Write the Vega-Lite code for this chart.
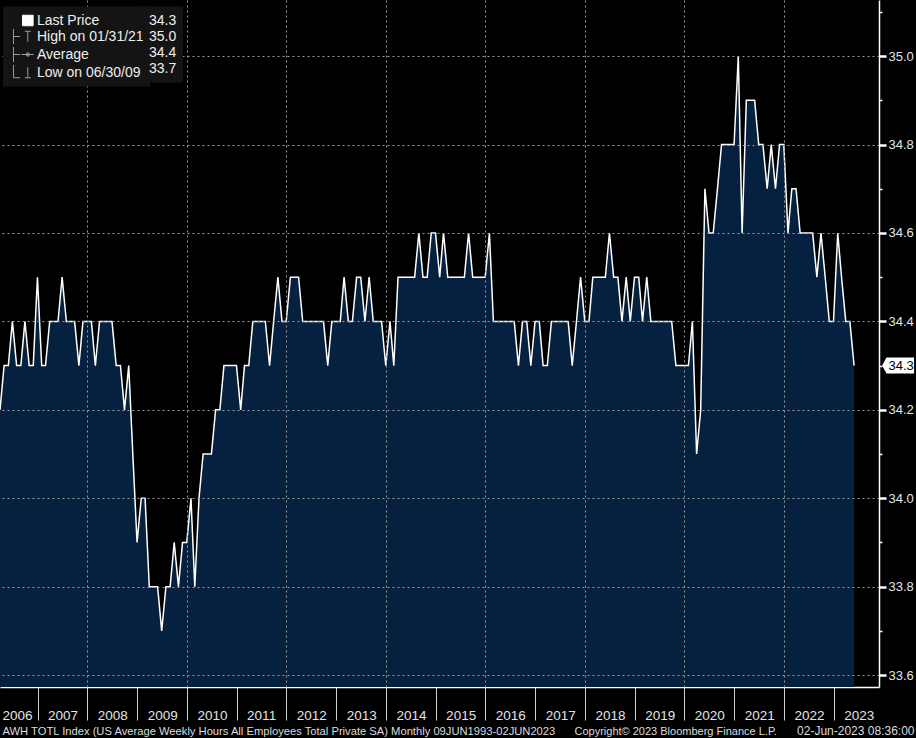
{
  "$schema": "https://vega.github.io/schema/vega-lite/v6.json",
  "width": 879,
  "height": 687,
  "autosize": {"type": "none"},
  "padding": {"left": 0, "top": 0, "right": 37, "bottom": 51},
  "background": "#000000",
  "config": {"view": {"stroke": null}, "font": "Liberation Sans"},
  "datasets": {
    "awh": [
      {"date": "2006-03-31", "hours": 34.2}, {"date": "2006-04-30", "hours": 34.3}, {"date": "2006-05-31", "hours": 34.3},
      {"date": "2006-06-30", "hours": 34.4}, {"date": "2006-07-31", "hours": 34.3}, {"date": "2006-08-31", "hours": 34.3},
      {"date": "2006-09-30", "hours": 34.4}, {"date": "2006-10-31", "hours": 34.3}, {"date": "2006-11-30", "hours": 34.3},
      {"date": "2006-12-31", "hours": 34.5},
      {"date": "2007-01-31", "hours": 34.3}, {"date": "2007-02-28", "hours": 34.3}, {"date": "2007-03-31", "hours": 34.4},
      {"date": "2007-04-30", "hours": 34.4}, {"date": "2007-05-31", "hours": 34.4}, {"date": "2007-06-30", "hours": 34.5},
      {"date": "2007-07-31", "hours": 34.4}, {"date": "2007-08-31", "hours": 34.4}, {"date": "2007-09-30", "hours": 34.4},
      {"date": "2007-10-31", "hours": 34.3}, {"date": "2007-11-30", "hours": 34.4}, {"date": "2007-12-31", "hours": 34.4},
      {"date": "2008-01-31", "hours": 34.4}, {"date": "2008-02-29", "hours": 34.3}, {"date": "2008-03-31", "hours": 34.4},
      {"date": "2008-04-30", "hours": 34.4}, {"date": "2008-05-31", "hours": 34.4}, {"date": "2008-06-30", "hours": 34.4},
      {"date": "2008-07-31", "hours": 34.3}, {"date": "2008-08-31", "hours": 34.3}, {"date": "2008-09-30", "hours": 34.2},
      {"date": "2008-10-31", "hours": 34.3}, {"date": "2008-11-30", "hours": 34.1}, {"date": "2008-12-31", "hours": 33.9},
      {"date": "2009-01-31", "hours": 34.0}, {"date": "2009-02-28", "hours": 34.0}, {"date": "2009-03-31", "hours": 33.8},
      {"date": "2009-04-30", "hours": 33.8}, {"date": "2009-05-31", "hours": 33.8}, {"date": "2009-06-30", "hours": 33.7},
      {"date": "2009-07-31", "hours": 33.8}, {"date": "2009-08-31", "hours": 33.8}, {"date": "2009-09-30", "hours": 33.9},
      {"date": "2009-10-31", "hours": 33.8}, {"date": "2009-11-30", "hours": 33.9}, {"date": "2009-12-31", "hours": 33.9},
      {"date": "2010-01-31", "hours": 34.0}, {"date": "2010-02-28", "hours": 33.8}, {"date": "2010-03-31", "hours": 34.0},
      {"date": "2010-04-30", "hours": 34.1}, {"date": "2010-05-31", "hours": 34.1}, {"date": "2010-06-30", "hours": 34.1},
      {"date": "2010-07-31", "hours": 34.2}, {"date": "2010-08-31", "hours": 34.2}, {"date": "2010-09-30", "hours": 34.3},
      {"date": "2010-10-31", "hours": 34.3}, {"date": "2010-11-30", "hours": 34.3}, {"date": "2010-12-31", "hours": 34.3},
      {"date": "2011-01-31", "hours": 34.2}, {"date": "2011-02-28", "hours": 34.3}, {"date": "2011-03-31", "hours": 34.3},
      {"date": "2011-04-30", "hours": 34.4}, {"date": "2011-05-31", "hours": 34.4}, {"date": "2011-06-30", "hours": 34.4},
      {"date": "2011-07-31", "hours": 34.4}, {"date": "2011-08-31", "hours": 34.3}, {"date": "2011-09-30", "hours": 34.4},
      {"date": "2011-10-31", "hours": 34.5}, {"date": "2011-11-30", "hours": 34.4}, {"date": "2011-12-31", "hours": 34.4},
      {"date": "2012-01-31", "hours": 34.5}, {"date": "2012-02-29", "hours": 34.5}, {"date": "2012-03-31", "hours": 34.5},
      {"date": "2012-04-30", "hours": 34.4}, {"date": "2012-05-31", "hours": 34.4}, {"date": "2012-06-30", "hours": 34.4},
      {"date": "2012-07-31", "hours": 34.4}, {"date": "2012-08-31", "hours": 34.4}, {"date": "2012-09-30", "hours": 34.4},
      {"date": "2012-10-31", "hours": 34.3}, {"date": "2012-11-30", "hours": 34.4}, {"date": "2012-12-31", "hours": 34.4},
      {"date": "2013-01-31", "hours": 34.4}, {"date": "2013-02-28", "hours": 34.5}, {"date": "2013-03-31", "hours": 34.4},
      {"date": "2013-04-30", "hours": 34.4}, {"date": "2013-05-31", "hours": 34.5}, {"date": "2013-06-30", "hours": 34.5},
      {"date": "2013-07-31", "hours": 34.4}, {"date": "2013-08-31", "hours": 34.5}, {"date": "2013-09-30", "hours": 34.4},
      {"date": "2013-10-31", "hours": 34.4}, {"date": "2013-11-30", "hours": 34.4}, {"date": "2013-12-31", "hours": 34.3},
      {"date": "2014-01-31", "hours": 34.4}, {"date": "2014-02-28", "hours": 34.3}, {"date": "2014-03-31", "hours": 34.5},
      {"date": "2014-04-30", "hours": 34.5}, {"date": "2014-05-31", "hours": 34.5}, {"date": "2014-06-30", "hours": 34.5},
      {"date": "2014-07-31", "hours": 34.5}, {"date": "2014-08-31", "hours": 34.6}, {"date": "2014-09-30", "hours": 34.5},
      {"date": "2014-10-31", "hours": 34.5}, {"date": "2014-11-30", "hours": 34.6}, {"date": "2014-12-31", "hours": 34.6},
      {"date": "2015-01-31", "hours": 34.5}, {"date": "2015-02-28", "hours": 34.6}, {"date": "2015-03-31", "hours": 34.5},
      {"date": "2015-04-30", "hours": 34.5}, {"date": "2015-05-31", "hours": 34.5}, {"date": "2015-06-30", "hours": 34.5},
      {"date": "2015-07-31", "hours": 34.5}, {"date": "2015-08-31", "hours": 34.6}, {"date": "2015-09-30", "hours": 34.5},
      {"date": "2015-10-31", "hours": 34.5}, {"date": "2015-11-30", "hours": 34.5}, {"date": "2015-12-31", "hours": 34.5},
      {"date": "2016-01-31", "hours": 34.6}, {"date": "2016-02-29", "hours": 34.4}, {"date": "2016-03-31", "hours": 34.4},
      {"date": "2016-04-30", "hours": 34.4}, {"date": "2016-05-31", "hours": 34.4}, {"date": "2016-06-30", "hours": 34.4},
      {"date": "2016-07-31", "hours": 34.4}, {"date": "2016-08-31", "hours": 34.3}, {"date": "2016-09-30", "hours": 34.4},
      {"date": "2016-10-31", "hours": 34.4}, {"date": "2016-11-30", "hours": 34.3}, {"date": "2016-12-31", "hours": 34.4},
      {"date": "2017-01-31", "hours": 34.4}, {"date": "2017-02-28", "hours": 34.3}, {"date": "2017-03-31", "hours": 34.3},
      {"date": "2017-04-30", "hours": 34.4}, {"date": "2017-05-31", "hours": 34.4}, {"date": "2017-06-30", "hours": 34.4},
      {"date": "2017-07-31", "hours": 34.4}, {"date": "2017-08-31", "hours": 34.4}, {"date": "2017-09-30", "hours": 34.3},
      {"date": "2017-10-31", "hours": 34.4}, {"date": "2017-11-30", "hours": 34.5}, {"date": "2017-12-31", "hours": 34.4},
      {"date": "2018-01-31", "hours": 34.4}, {"date": "2018-02-28", "hours": 34.5}, {"date": "2018-03-31", "hours": 34.5},
      {"date": "2018-04-30", "hours": 34.5}, {"date": "2018-05-31", "hours": 34.5}, {"date": "2018-06-30", "hours": 34.6},
      {"date": "2018-07-31", "hours": 34.5}, {"date": "2018-08-31", "hours": 34.5}, {"date": "2018-09-30", "hours": 34.4},
      {"date": "2018-10-31", "hours": 34.5}, {"date": "2018-11-30", "hours": 34.4}, {"date": "2018-12-31", "hours": 34.5},
      {"date": "2019-01-31", "hours": 34.5}, {"date": "2019-02-28", "hours": 34.4}, {"date": "2019-03-31", "hours": 34.5},
      {"date": "2019-04-30", "hours": 34.4}, {"date": "2019-05-31", "hours": 34.4}, {"date": "2019-06-30", "hours": 34.4},
      {"date": "2019-07-31", "hours": 34.4}, {"date": "2019-08-31", "hours": 34.4}, {"date": "2019-09-30", "hours": 34.4},
      {"date": "2019-10-31", "hours": 34.3}, {"date": "2019-11-30", "hours": 34.3}, {"date": "2019-12-31", "hours": 34.3},
      {"date": "2020-01-31", "hours": 34.3}, {"date": "2020-02-29", "hours": 34.4}, {"date": "2020-03-31", "hours": 34.1},
      {"date": "2020-04-30", "hours": 34.2}, {"date": "2020-05-31", "hours": 34.7}, {"date": "2020-06-30", "hours": 34.6},
      {"date": "2020-07-31", "hours": 34.6}, {"date": "2020-08-31", "hours": 34.7}, {"date": "2020-09-30", "hours": 34.8},
      {"date": "2020-10-31", "hours": 34.8}, {"date": "2020-11-30", "hours": 34.8}, {"date": "2020-12-31", "hours": 34.8},
      {"date": "2021-01-31", "hours": 35.0}, {"date": "2021-02-28", "hours": 34.6}, {"date": "2021-03-31", "hours": 34.9},
      {"date": "2021-04-30", "hours": 34.9}, {"date": "2021-05-31", "hours": 34.9}, {"date": "2021-06-30", "hours": 34.8},
      {"date": "2021-07-31", "hours": 34.8}, {"date": "2021-08-31", "hours": 34.7}, {"date": "2021-09-30", "hours": 34.8},
      {"date": "2021-10-31", "hours": 34.7}, {"date": "2021-11-30", "hours": 34.8}, {"date": "2021-12-31", "hours": 34.8},
      {"date": "2022-01-31", "hours": 34.6}, {"date": "2022-02-28", "hours": 34.7}, {"date": "2022-03-31", "hours": 34.7},
      {"date": "2022-04-30", "hours": 34.6}, {"date": "2022-05-31", "hours": 34.6}, {"date": "2022-06-30", "hours": 34.6},
      {"date": "2022-07-31", "hours": 34.6}, {"date": "2022-08-31", "hours": 34.5}, {"date": "2022-09-30", "hours": 34.6},
      {"date": "2022-10-31", "hours": 34.5}, {"date": "2022-11-30", "hours": 34.4}, {"date": "2022-12-31", "hours": 34.4},
      {"date": "2023-01-31", "hours": 34.6}, {"date": "2023-02-28", "hours": 34.5}, {"date": "2023-03-31", "hours": 34.4},
      {"date": "2023-04-30", "hours": 34.4}, {"date": "2023-05-31", "hours": 34.3}
    ]
  },
  "data": {"name": "awh"},
  "resolve": {"axis": {"x": "independent", "y": "independent"}},
  "layer": [
    {
      "mark": {"type": "area", "color": "#06203f", "opacity": 1, "clip": true},
      "encoding": {
        "x": {
          "field": "date", "type": "temporal",
          "scale": {"type": "utc", "domain": [{"year": 2006, "month": 3, "date": 31, "utc": true}, {"year": 2023, "month": 11, "date": 30, "utc": true}]},
          "axis": {
            "orient": "bottom",
            "values": [
              {"year": 2006, "month": 3, "date": 31, "utc": true},
              {"year": 2007, "month": 1, "date": 1, "utc": true}, {"year": 2008, "month": 1, "date": 1, "utc": true},
              {"year": 2009, "month": 1, "date": 1, "utc": true}, {"year": 2010, "month": 1, "date": 1, "utc": true},
              {"year": 2011, "month": 1, "date": 1, "utc": true}, {"year": 2012, "month": 1, "date": 1, "utc": true},
              {"year": 2013, "month": 1, "date": 1, "utc": true}, {"year": 2014, "month": 1, "date": 1, "utc": true},
              {"year": 2015, "month": 1, "date": 1, "utc": true}, {"year": 2016, "month": 1, "date": 1, "utc": true},
              {"year": 2017, "month": 1, "date": 1, "utc": true}, {"year": 2018, "month": 1, "date": 1, "utc": true},
              {"year": 2019, "month": 1, "date": 1, "utc": true}, {"year": 2020, "month": 1, "date": 1, "utc": true},
              {"year": 2021, "month": 1, "date": 1, "utc": true}, {"year": 2022, "month": 1, "date": 1, "utc": true},
              {"year": 2023, "month": 1, "date": 1, "utc": true}
            ],
            "labelExpr": "utcFormat(datum.value, '%Y')",
            "labelAlign": "left",
            "labelOffset": {"condition": {"test": "utcyear(datum.value) == 2006", "value": 2}, "value": 10},
            "labelBaseline": "alphabetic",
            "labelPadding": -1,
            "labelFont": "Liberation Sans",
            "labelFontSize": 13.5,
            "labelColor": "#e4e4e4",
            "labelOverlap": false,
            "labelFlush": false,
            "labelBound": false,
            "ticks": true,
            "tickColor": "#cfcfcf",
            "tickSize": 33,
            "tickWidth": 1,
            "tickOpacity": {"condition": {"test": "utcyear(datum.value) == 2006", "value": 0}, "value": 1},
            "domain": true,
            "domainColor": "#ffffff",
            "domainWidth": 1.5,
            "grid": false,
            "title": "AWH TOTL Index (US Average Weekly Hours All Employees Total Private SA)  Monthly 09JUN1993-02JUN2023",
            "titleX": 2,
            "titleY": 47,
            "titleAlign": "left",
            "titleAnchor": "start",
            "titleBaseline": "alphabetic",
            "titleFont": "Liberation Sans",
            "titleFontSize": 11.2,
            "titleFontWeight": "normal",
            "titleColor": "#dcdcdc"
          }
        },
        "y": {
          "field": "hours", "type": "quantitative",
          "scale": {"domain": [33.573, 35.127], "zero": false, "nice": false},
          "axis": {
            "orient": "right",
            "values": [33.6, 33.8, 34.0, 34.2, 34.4, 34.6, 34.8, 35.0],
            "format": ".1f",
            "grid": true,
            "gridColor": "#9a9a9a",
            "gridDash": [2, 3],
            "gridWidth": 1,
            "ticks": true,
            "tickColor": "#ffffff",
            "tickSize": 7,
            "tickWidth": 2.5,
            "domain": true,
            "domainColor": "#ffffff",
            "domainWidth": 1.5,
            "labelFont": "Liberation Sans",
            "labelFontSize": 13,
            "labelColor": "#e4e4e4",
            "labelPadding": 2,
            "labelBaseline": "middle",
            "labelOverlap": false,
            "labelBound": false,
            "title": null,
            "zindex": 1
          }
        }
      }
    },
    {
      "mark": {"type": "line", "strokeWidth": 1.5, "clip": true},
      "encoding": {
        "x": {
          "field": "date", "type": "temporal",
          "axis": {
            "orient": "bottom",
            "values": [
              {"year": 2008, "month": 1, "date": 1, "utc": true}, {"year": 2010, "month": 1, "date": 1, "utc": true},
              {"year": 2012, "month": 1, "date": 1, "utc": true}, {"year": 2014, "month": 1, "date": 1, "utc": true},
              {"year": 2016, "month": 1, "date": 1, "utc": true}, {"year": 2018, "month": 1, "date": 1, "utc": true},
              {"year": 2020, "month": 1, "date": 1, "utc": true}, {"year": 2022, "month": 1, "date": 1, "utc": true}
            ],
            "grid": true,
            "gridColor": "#9a9a9a",
            "gridDash": [2, 3],
            "gridWidth": 1,
            "ticks": false,
            "labels": false,
            "domain": false,
            "title": "Copyright\u00a9 2023 Bloomberg Finance L.P.",
            "titleX": 574,
            "titleY": 47,
            "titleAlign": "left",
            "titleAnchor": "start",
            "titleBaseline": "alphabetic",
            "titleFont": "Liberation Sans",
            "titleFontSize": 11,
            "titleFontWeight": "normal",
            "titleColor": "#dcdcdc",
            "zindex": 1
          }
        },
        "y": {
          "field": "hours", "type": "quantitative",
          "axis": {
            "orient": "right",
            "values": [33.7, 33.9, 34.1, 34.3, 34.5, 34.7, 34.9, 35.1],
            "labels": false,
            "grid": false,
            "domain": false,
            "ticks": true,
            "tickColor": "#ffffff",
            "tickSize": 3,
            "tickWidth": 1.5,
            "title": "02-Jun-2023 08:36:00",
            "titleAngle": 0,
            "titleX": 35,
            "titleY": 734,
            "titleAlign": "right",
            "titleAnchor": "start",
            "titleBaseline": "alphabetic",
            "titleFont": "Liberation Sans",
            "titleFontSize": 12,
            "titleFontWeight": "normal",
            "titleColor": "#dcdcdc"
          }
        },
        "color": {
          "datum": "Last Price", "type": "nominal",
          "scale": {"domain": ["Last Price", "High on 01/31/21", "Average", "Low on 06/30/09"], "range": ["#ffffff", "#9c9c9c", "#9c9c9c", "#9c9c9c"]},
          "legend": {
            "orient": "none",
            "legendX": 3,
            "legendY": 6.5,
            "title": null,
            "fillColor": "#141414",
            "padding": 6,
            "rowPadding": -4.1,
            "symbolSize": 225,
            "symbolStrokeWidth": 1,
            "labelOffset": 12,
            "labelFont": "Liberation Sans",
            "labelFontSize": 14,
            "labelColor": "#eeeeee",
            "zindex": 2,
            "encode": {
              "symbols": {
                "update": {
                  "shape": {"signal": "datum.value == 'Last Price' ? 'M0.73,-0.7H2.15V0.7H0.73Z' : datum.value == 'Average' ? 'M0.6,0H2.2M1.3,-0.2H1.6V0.2H1.3ZM-0.47,-1V1M-0.47,0H0.4' : datum.value == 'Low on 06/30/09' ? 'M1.44,-0.7V0.7M1.04,0.7H1.84M-0.47,-1V0.7H0.4' : 'M1.04,-0.7H1.84M1.44,-0.7V0.7M-0.47,-1V1M-0.47,0H0.4'"},
                  "fill": {"signal": "datum.value == 'Last Price' ? '#ffffff' : 'transparent'"},
                  "stroke": {"signal": "datum.value == 'Last Price' ? '#ffffff' : '#9c9c9c'"},
                  "strokeWidth": {"value": 1},
                  "opacity": {"value": 1}
                }
              }
            }
          }
        },
        "strokeDash": {
          "datum": "34.3", "type": "nominal",
          "scale": {"domain": ["34.3", "35.0", "34.4", "33.7"], "range": [[1, 0], [1, 0], [1, 0], [1, 0]]},
          "legend": {
            "orient": "none",
            "legendX": 143,
            "legendY": 6.5,
            "title": null,
            "fillColor": "#141414",
            "padding": 6,
            "rowPadding": -4.1,
            "symbolType": "square",
            "symbolSize": 225,
            "symbolStrokeWidth": 1,
            "symbolOpacity": 0,
            "symbolStrokeColor": "#141414",
            "symbolFillColor": "#141414",
            "labelOffset": -16,
            "labelFont": "Liberation Sans",
            "labelFontSize": 14,
            "labelColor": "#eeeeee",
            "zindex": 3,
            "encode": {
              "symbols": {
                "update": {
                  "fill": {"value": "#141414"},
                  "stroke": {"value": "#141414"},
                  "shape": {"value": "square"},
                  "opacity": {"value": 0}
                }
              }
            }
          }
        }
      }
    },
    {
      "transform": [{"filter": "time(datum.date) >= time('2023-05-01')"}],
      "mark": {"type": "point", "shape": "M-1,0L-0.72,-0.5L1,-0.5L1,0.5L-0.72,0.5Z", "size": 1024, "filled": true, "color": "#ffffff", "opacity": 1, "xOffset": 44, "clip": false},
      "encoding": {
        "x": {"field": "date", "type": "temporal", "axis": null},
        "y": {"field": "hours", "type": "quantitative", "axis": null}
      }
    },
    {
      "transform": [{"filter": "time(datum.date) >= time('2023-05-01')"}],
      "mark": {"type": "text", "color": "#000000", "font": "Liberation Sans", "fontSize": 13, "align": "center", "baseline": "middle", "dx": 47, "clip": false},
      "encoding": {
        "x": {"field": "date", "type": "temporal", "axis": null},
        "y": {"field": "hours", "type": "quantitative", "axis": null},
        "text": {"field": "hours", "type": "quantitative", "format": ".1f"}
      }
    }
  ]
}
